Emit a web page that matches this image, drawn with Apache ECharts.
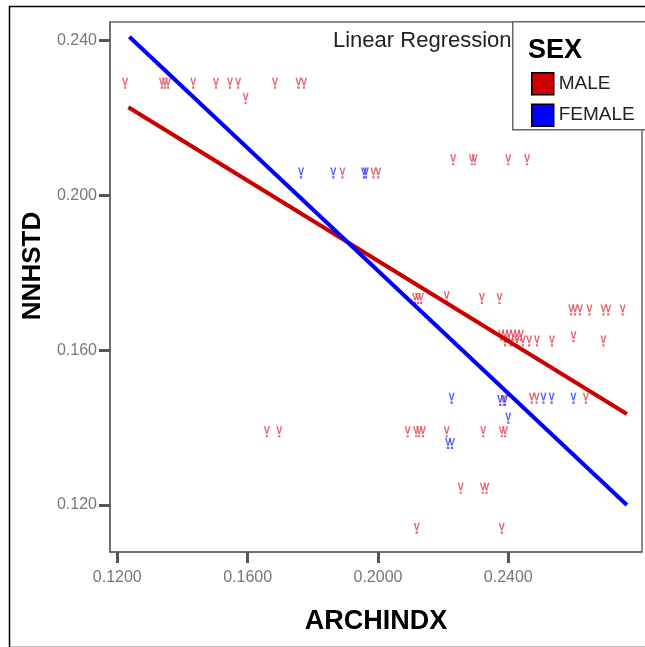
<!DOCTYPE html>
<html>
<head>
<meta charset="utf-8">
<script src="https://cdn.jsdelivr.net/npm/echarts@6/dist/echarts.min.js"></script>
<style>
html,body{margin:0;padding:0;background:#fff;}
#chart{width:645px;height:647px;}
</style>
</head>
<body>
<div id="chart"></div>
<script>
// Data
var maleX = [
  0.1224, 0.1337, 0.1346, 0.1356, 0.1433, 0.1503, 0.1546, 0.1571, 0.1684, 0.1756, 0.1773,
  0.1594,
  0.2231, 0.2288, 0.2297, 0.2400, 0.2458,
  0.1891, 0.1986, 0.2001,
  0.2114, 0.2123, 0.2132, 0.2211, 0.2319, 0.2373,
  0.2593, 0.2605, 0.2620, 0.2649, 0.2692, 0.2707, 0.2751,
  0.2378, 0.2390, 0.2402, 0.2415, 0.2427, 0.2439, 0.2600,
  0.2390, 0.2408, 0.2427, 0.2445, 0.2464, 0.2488, 0.2534, 0.2692,
  0.2385, 0.2472, 0.2487, 0.2638,
  0.1659, 0.1697, 0.2091, 0.2117, 0.2126, 0.2138, 0.2211, 0.2323, 0.2380, 0.2390,
  0.2254, 0.2322, 0.2333,
  0.2119, 0.2380
];
var maleY = [
  0.2290, 0.2290, 0.2290, 0.2290, 0.2290, 0.2290, 0.2290, 0.2290, 0.2290, 0.2290, 0.2290,
  0.2251,
  0.2092, 0.2092, 0.2092, 0.2092, 0.2092,
  0.2058, 0.2058, 0.2058,
  0.1734, 0.1734, 0.1734, 0.1738, 0.1734, 0.1734,
  0.1704, 0.1704, 0.1704, 0.1704, 0.1704, 0.1704, 0.1704,
  0.1639, 0.1639, 0.1639, 0.1639, 0.1639, 0.1639, 0.1635,
  0.1624, 0.1624, 0.1624, 0.1624, 0.1624, 0.1624, 0.1624, 0.1624,
  0.1470, 0.1476, 0.1476, 0.1476,
  0.1389, 0.1389, 0.1389, 0.1389, 0.1389, 0.1389, 0.1389, 0.1389, 0.1389, 0.1389,
  0.1243, 0.1243, 0.1243,
  0.1140, 0.1140
];
var femaleX = [
  0.1764, 0.1863, 0.1957, 0.1963,
  0.2226, 0.2375, 0.2390, 0.2508, 0.2533, 0.2600,
  0.2400,
  0.2215, 0.2227
];
var femaleY = [
  0.2058, 0.2058, 0.2058, 0.2058,
  0.1476, 0.1470, 0.1470, 0.1476, 0.1476, 0.1476,
  0.1424,
  0.1359, 0.1359
];
// Linear regression fit lines (end points)
var maleFitX = [0.1234, 0.2764];
var maleFitY = [0.2228, 0.1435];
var femaleFitX = [0.1237, 0.2764];
var femaleFitY = [0.2410, 0.1200];
// Tick labels
var xTicks = [0.12, 0.16, 0.20, 0.24];
var yTicks = [0.12, 0.16, 0.20, 0.24];
var categories = ['MALE', 'FEMALE'];

function pairs(xs, ys) { return xs.map(function (x, i) { return [x, ys[i]]; }); }

var markPath = 'path://M0,0 L1.3,0 L2.5,5.2 L3.7,0 L5,0 L3.1,7 L1.9,7 Z M1.6,8 L3.4,8 L3.4,10 L1.6,10 Z';

var chart = echarts.init(document.getElementById('chart'), null, {renderer: 'canvas'});
var option = {
  animation: false,
  backgroundColor: '#fff',
  grid: {left: 110, top: 22, right: 3, bottom: 95, show: true, borderColor: '#666', borderWidth: 1.5, backgroundColor: 'transparent'},
  xAxis: {
    type: 'value', min: 0.11776, max: 0.28104,
    name: 'ARCHINDX', nameLocation: 'middle', nameGap: 56,
    nameTextStyle: {fontFamily: 'Liberation Sans, Arial', fontWeight: 'bold', fontSize: 27, color: '#000'},
    splitLine: {show: false},
    axisLine: {show: true, lineStyle: {color: '#666', width: 1.5}},
    axisTick: {show: true, length: 11, lineStyle: {color: '#555', width: 3}, customValues: xTicks},
    axisLabel: {customValues: xTicks, margin: 18, fontFamily: 'Liberation Sans, Arial', fontSize: 16, color: '#777',
      formatter: function (v) { return v.toFixed(4); }}
  },
  yAxis: {
    type: 'value', min: 0.10785, max: 0.24483,
    name: 'NNHSTD', nameLocation: 'middle', nameGap: 64, nameRotate: 90,
    nameTextStyle: {fontFamily: 'Liberation Sans, Arial', fontWeight: 'bold', fontSize: 26, color: '#000', padding: [0, 0, 0, 42]},
    splitLine: {show: false},
    axisLine: {show: true, lineStyle: {color: '#666', width: 1.5}},
    axisTick: {show: true, length: 11, lineStyle: {color: '#555', width: 3}, customValues: yTicks},
    axisLabel: {customValues: yTicks, margin: 13, fontFamily: 'Liberation Sans, Arial', fontSize: 16, color: '#777',
      formatter: function (v) { return v.toFixed(3); }}
  },
  legend: {
    orient: 'vertical', left: 526, top: 67, itemGap: 8, itemWidth: 22, itemHeight: 22,
    selectedMode: false, z: 20,
    textStyle: {fontFamily: 'Liberation Sans, Arial', fontSize: 19, color: '#222'},
    data: [
      {name: categories[0], icon: 'rect', itemStyle: {color: '#cc0000', opacity: 1, borderColor: '#000', borderWidth: 1.5}},
      {name: categories[1], icon: 'rect', itemStyle: {color: '#0000ff', opacity: 1, borderColor: '#000', borderWidth: 1.5}}
    ]
  },
  graphic: [
    {type: 'rect', left: 7, top: 4, shape: {width: 660, height: 641}, style: {fill: 'none', stroke: '#000', lineWidth: 1.5}, silent: true, z: -1},
    {type: 'rect', left: 512, top: 21, shape: {width: 150, height: 108}, style: {fill: '#fff', stroke: '#666', lineWidth: 1.5}, z: 5},
    {type: 'text', left: 528, top: 37, style: {text: 'SEX', fontFamily: 'Liberation Sans, Arial', fontWeight: 'bold', fontSize: 27, fill: '#000'}, z: 6},
    {type: 'text', left: 333, top: 30, style: {text: 'Linear Regression', fontFamily: 'Liberation Sans, Arial', fontSize: 22, fill: '#222'}, z: 6}
  ],
  series: [
    {name: categories[0], type: 'scatter', data: pairs(maleX, maleY), symbol: markPath, symbolSize: [6, 11],
      itemStyle: {color: '#e34a58', opacity: 0.85}, z: 2},
    {name: categories[1], type: 'scatter', data: pairs(femaleX, femaleY), symbol: markPath, symbolSize: [6, 11],
      itemStyle: {color: '#3048ff', opacity: 0.85}, z: 2},
    {name: categories[0], type: 'line', data: pairs(maleFitX, maleFitY), showSymbol: false, symbol: 'none',
      lineStyle: {color: '#cc0000', width: 4}, z: 3},
    {name: categories[1], type: 'line', data: pairs(femaleFitX, femaleFitY), showSymbol: false, symbol: 'none',
      lineStyle: {color: '#0000ff', width: 4}, z: 3}
  ]
};
chart.setOption(option);
</script>
</body>
</html>
